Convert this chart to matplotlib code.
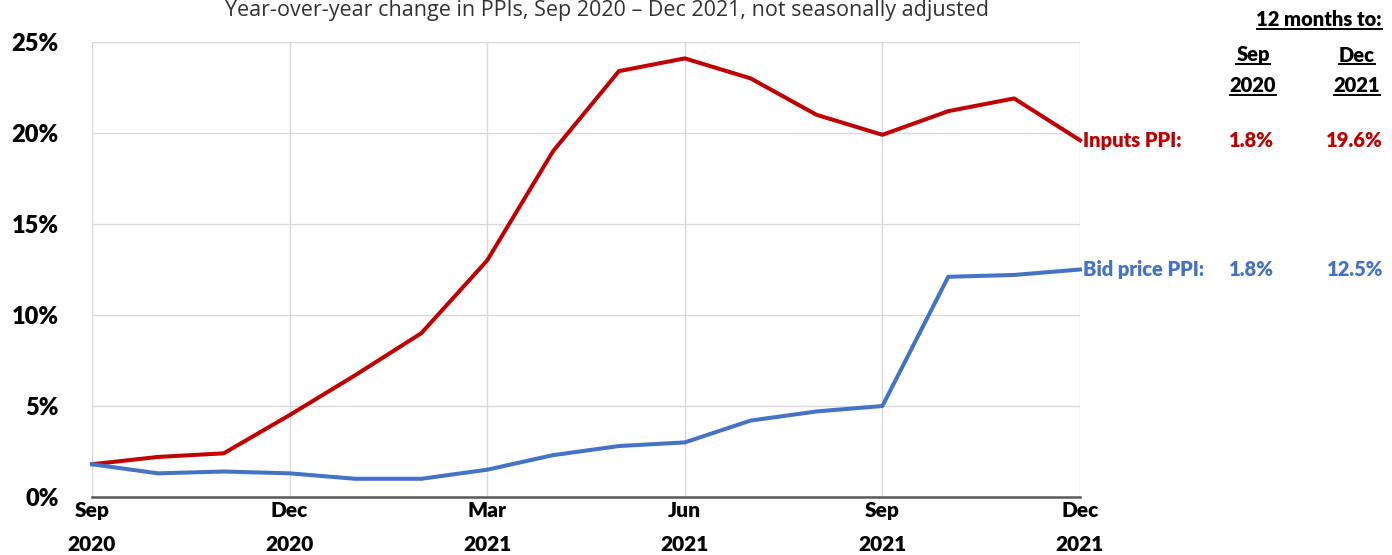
import matplotlib
matplotlib.use("Agg")
import matplotlib.pyplot as plt
from matplotlib.lines import Line2D

months = ["Sep 2020", "Oct 2020", "Nov 2020", "Dec 2020", "Jan 2021", "Feb 2021",
          "Mar 2021", "Apr 2021", "May 2021", "Jun 2021", "Jul 2021", "Aug 2021",
          "Sep 2021", "Oct 2021", "Nov 2021", "Dec 2021"]
inputs_ppi = [1.8, 2.2, 2.4, 4.5, 6.7, 9.0, 13.0, 19.0, 23.4, 24.1, 23.0, 21.0,
              19.9, 21.2, 21.9, 19.6]
bid_ppi = [1.8, 1.3, 1.4, 1.3, 1.0, 1.0, 1.5, 2.3, 2.8, 3.0, 4.2, 4.7,
           5.0, 12.1, 12.2, 12.5]
xtick_pos = [0, 3, 6, 9, 12, 15]
xtick_labels = ["Sep\n2020", "Dec\n2020", "Mar\n2021", "Jun\n2021", "Sep\n2021", "Dec\n2021"]
yticks = [0, 5, 10, 15, 20, 25]
ytick_labels = ["0%", "5%", "10%", "15%", "20%", "25%"]
title = "Year-over-year change in PPIs, Sep 2020 \u2013 Dec 2021, not seasonally adjusted"
series_names = ["Inputs PPI:", "Bid price PPI:"]
start_vals = ["1.8%", "1.8%"]
end_vals = ["19.6%", "12.5%"]

RED = "#C00000"
BLUE = "#4472C4"
FONT = "Lato"

W, H = 1392, 555
fig = plt.figure(figsize=(W / 100, H / 100), dpi=100)
ax = fig.add_axes([92 / W, 1 - 497 / H, (1080 - 92) / W, (497 - 42) / H])

x = list(range(len(months)))
ax.plot(x, inputs_ppi, color=RED, lw=2.9, solid_joinstyle="round", zorder=3, clip_on=False)
ax.plot(x, bid_ppi, color=BLUE, lw=2.9, solid_joinstyle="round", zorder=3, clip_on=False)

ax.set_xlim(0, 15)
ax.set_ylim(0, 25)
ax.set_xticks(xtick_pos)
ax.set_xticklabels(xtick_labels, fontfamily=FONT, fontweight="heavy", fontsize=15,
                   linespacing=1.95)
ax.set_yticks(yticks)
ax.set_yticklabels(ytick_labels, fontfamily=FONT, fontweight="heavy", fontsize=17)
ax.tick_params(axis="both", length=0)
ax.tick_params(axis="x", pad=3)
ax.tick_params(axis="y", pad=24)
ax.grid(True, color="#d9d9d9", lw=1.0)
ax.set_axisbelow(True)
for s in ["top", "right", "left"]:
    ax.spines[s].set_visible(False)
ax.spines["bottom"].set_color("#595959")
ax.spines["bottom"].set_linewidth(1.8)

fig.text(607 / W, 1.0, title, ha="center", va="top", fontsize=15.5,
         fontfamily="Open Sans", color="#333333")

# Right-hand annotations
colors = [RED, BLUE]
ends = [inputs_ppi[-1], bid_ppi[-1]]
underline_texts = []
for name, sv, ev, c, yv in zip(series_names, start_vals, end_vals, colors, ends):
    ax.annotate(name, xy=(15, yv), xytext=(2, 0), textcoords="offset points",
                ha="left", va="center", color=c, fontsize=14.5, fontweight="heavy",
                fontfamily=FONT, annotation_clip=False)
    ax.annotate(sv, xy=(15, yv), xytext=((1251 - 1080) * 0.72, 0), textcoords="offset points",
                ha="center", va="center", color=c, fontsize=14.5, fontweight="heavy",
                fontfamily=FONT, annotation_clip=False)
    ax.annotate(ev, xy=(15, yv), xytext=((1383 - 1080) * 0.72, 0), textcoords="offset points",
                ha="right", va="center", color=c, fontsize=14.5, fontweight="heavy",
                fontfamily=FONT, annotation_clip=False)

hdr_kw = dict(fontsize=14.5, fontweight="heavy", fontfamily=FONT, color="black", va="center")
underline_texts.append(fig.text(1382 / W, 1 - 20 / H, "12 months to:", ha="right", **hdr_kw))
underline_texts.append(fig.text(1253 / W, 1 - 55 / H, "Sep", ha="center", **hdr_kw))
underline_texts.append(fig.text(1253 / W, 1 - 86 / H, "2020", ha="center", **hdr_kw))
underline_texts.append(fig.text(1357 / W, 1 - 55 / H, "Dec", ha="center", **hdr_kw))
underline_texts.append(fig.text(1357 / W, 1 - 86 / H, "2021", ha="center", **hdr_kw))

fig.canvas.draw()
r = fig.canvas.get_renderer()
for t in underline_texts:
    bb = t.get_window_extent(renderer=r)
    yline = (bb.y0 + 1) / H
    fig.add_artist(Line2D([bb.x0 / W, bb.x1 / W], [yline, yline], color="black", lw=1.4))

fig.savefig("out.png", dpi=100)
